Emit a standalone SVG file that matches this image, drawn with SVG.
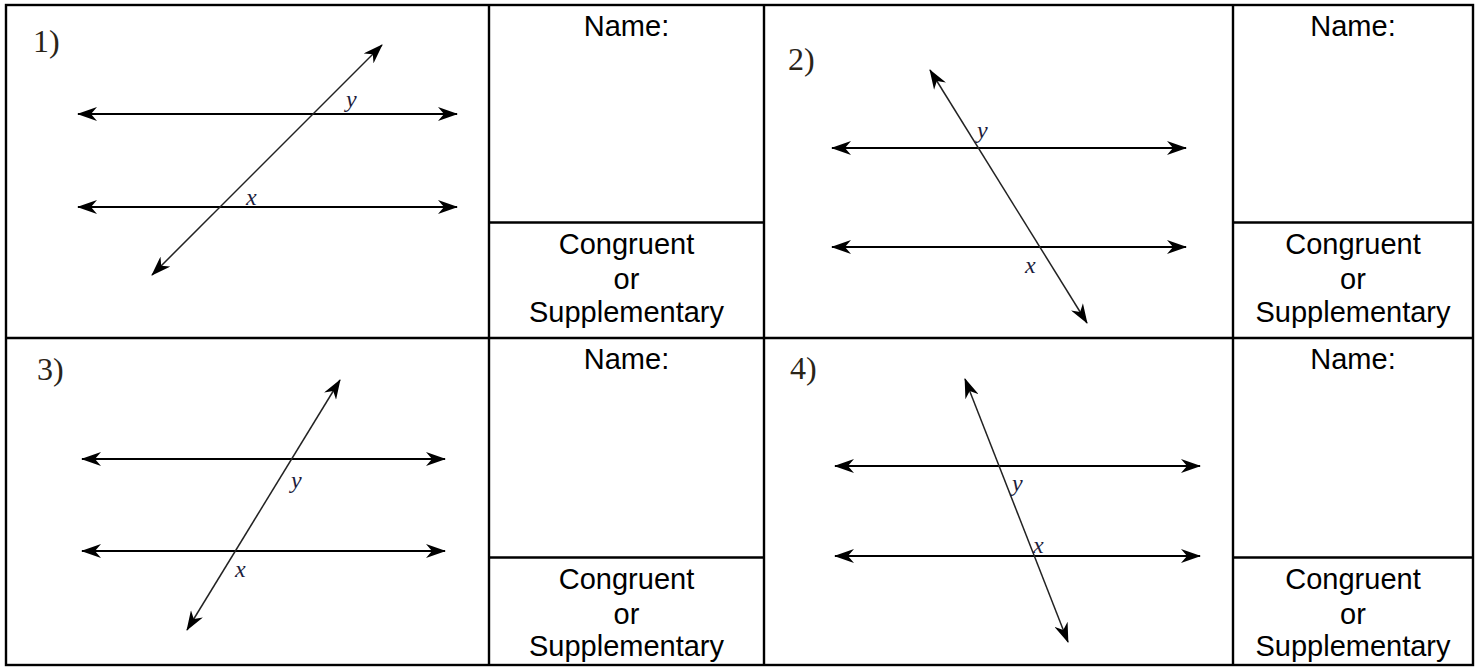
<svg xmlns="http://www.w3.org/2000/svg" width="1481" height="668" viewBox="0 0 1481 668">
<style>
.grid{stroke:#000;stroke-width:2.4;fill:none}
.cell{font-family:"Liberation Sans",Arial,sans-serif;font-size:29px;fill:#000;text-anchor:middle}
.num{font-family:"Liberation Serif","Times New Roman",serif;font-size:32px;fill:#2a2418}
.var{font-family:"Liberation Serif","Times New Roman",serif;font-style:italic;font-size:24px;fill:#1c1c3c}
.ln{stroke:#000;stroke-width:2;fill:none;marker-start:url(#ah);marker-end:url(#ah)}
.tr{stroke:#222;stroke-width:1.5;fill:none;marker-start:url(#ah);marker-end:url(#ah)}
</style>
<defs>
<marker id="ah" viewBox="0 0 20 14" refX="19" refY="7" markerWidth="20" markerHeight="14" markerUnits="userSpaceOnUse" orient="auto-start-reverse">
<path d="M0,0 L20,7 L0,14 L6,7 Z" fill="#000"/>
</marker>
</defs>
<rect width="1481" height="668" fill="#fff"/>
<g id="table">
<rect class="grid" x="6" y="5" width="1467" height="660"/>
<line class="grid" x1="489" y1="5" x2="489" y2="665"/>
<line class="grid" x1="764" y1="5" x2="764" y2="665"/>
<line class="grid" x1="1233" y1="5" x2="1233" y2="665"/>
<line class="grid" x1="6" y1="338" x2="1473" y2="338"/>
<line class="grid" x1="489" y1="222.5" x2="764" y2="222.5"/>
<line class="grid" x1="1233" y1="222.5" x2="1473" y2="222.5"/>
<line class="grid" x1="489" y1="557.5" x2="764" y2="557.5"/>
<line class="grid" x1="1233" y1="557.5" x2="1473" y2="557.5"/>
</g>
<g id="answer-cells">
<text class="cell" x="626.5" y="36">Name:</text>
<text class="cell" x="1353" y="36">Name:</text>
<text class="cell" x="626.5" y="369">Name:</text>
<text class="cell" x="1353" y="369">Name:</text>
<text class="cell" x="626.5" y="254">Congruent</text>
<text class="cell" x="626.5" y="289">or</text>
<text class="cell" x="626.5" y="322">Supplementary</text>
<text class="cell" x="1353" y="254">Congruent</text>
<text class="cell" x="1353" y="289">or</text>
<text class="cell" x="1353" y="322">Supplementary</text>
<text class="cell" x="626.5" y="589">Congruent</text>
<text class="cell" x="626.5" y="624">or</text>
<text class="cell" x="626.5" y="656">Supplementary</text>
<text class="cell" x="1353" y="589">Congruent</text>
<text class="cell" x="1353" y="624">or</text>
<text class="cell" x="1353" y="656">Supplementary</text>
</g>
<g id="problem1">
<text class="num" x="33" y="52">1)</text>
<line class="ln" x1="78" y1="114" x2="457" y2="114"/>
<line class="ln" x1="78" y1="207" x2="457" y2="207"/>
<line class="tr" x1="152" y1="275" x2="382" y2="45"/>
<text class="var" x="346" y="107">y</text>
<text class="var" x="246" y="205">x</text>
</g>
<g id="problem2">
<text class="num" x="788" y="70">2)</text>
<line class="ln" x1="832" y1="148" x2="1186" y2="148"/>
<line class="ln" x1="832" y1="247" x2="1186" y2="247"/>
<line class="tr" x1="930" y1="70" x2="1087" y2="323"/>
<text class="var" x="977" y="138">y</text>
<text class="var" x="1025" y="273">x</text>
</g>
<g id="problem3">
<text class="num" x="37" y="380">3)</text>
<line class="ln" x1="82" y1="459" x2="445" y2="459"/>
<line class="ln" x1="82" y1="551" x2="445" y2="551"/>
<line class="tr" x1="187" y1="630" x2="340" y2="380"/>
<text class="var" x="291" y="488">y</text>
<text class="var" x="235" y="577">x</text>
</g>
<g id="problem4">
<text class="num" x="790" y="379">4)</text>
<line class="ln" x1="835" y1="466" x2="1200" y2="466"/>
<line class="ln" x1="835" y1="556" x2="1200" y2="556"/>
<line class="tr" x1="965" y1="379" x2="1068" y2="642"/>
<text class="var" x="1012" y="491">y</text>
<text class="var" x="1033" y="553">x</text>
</g>
</svg>
